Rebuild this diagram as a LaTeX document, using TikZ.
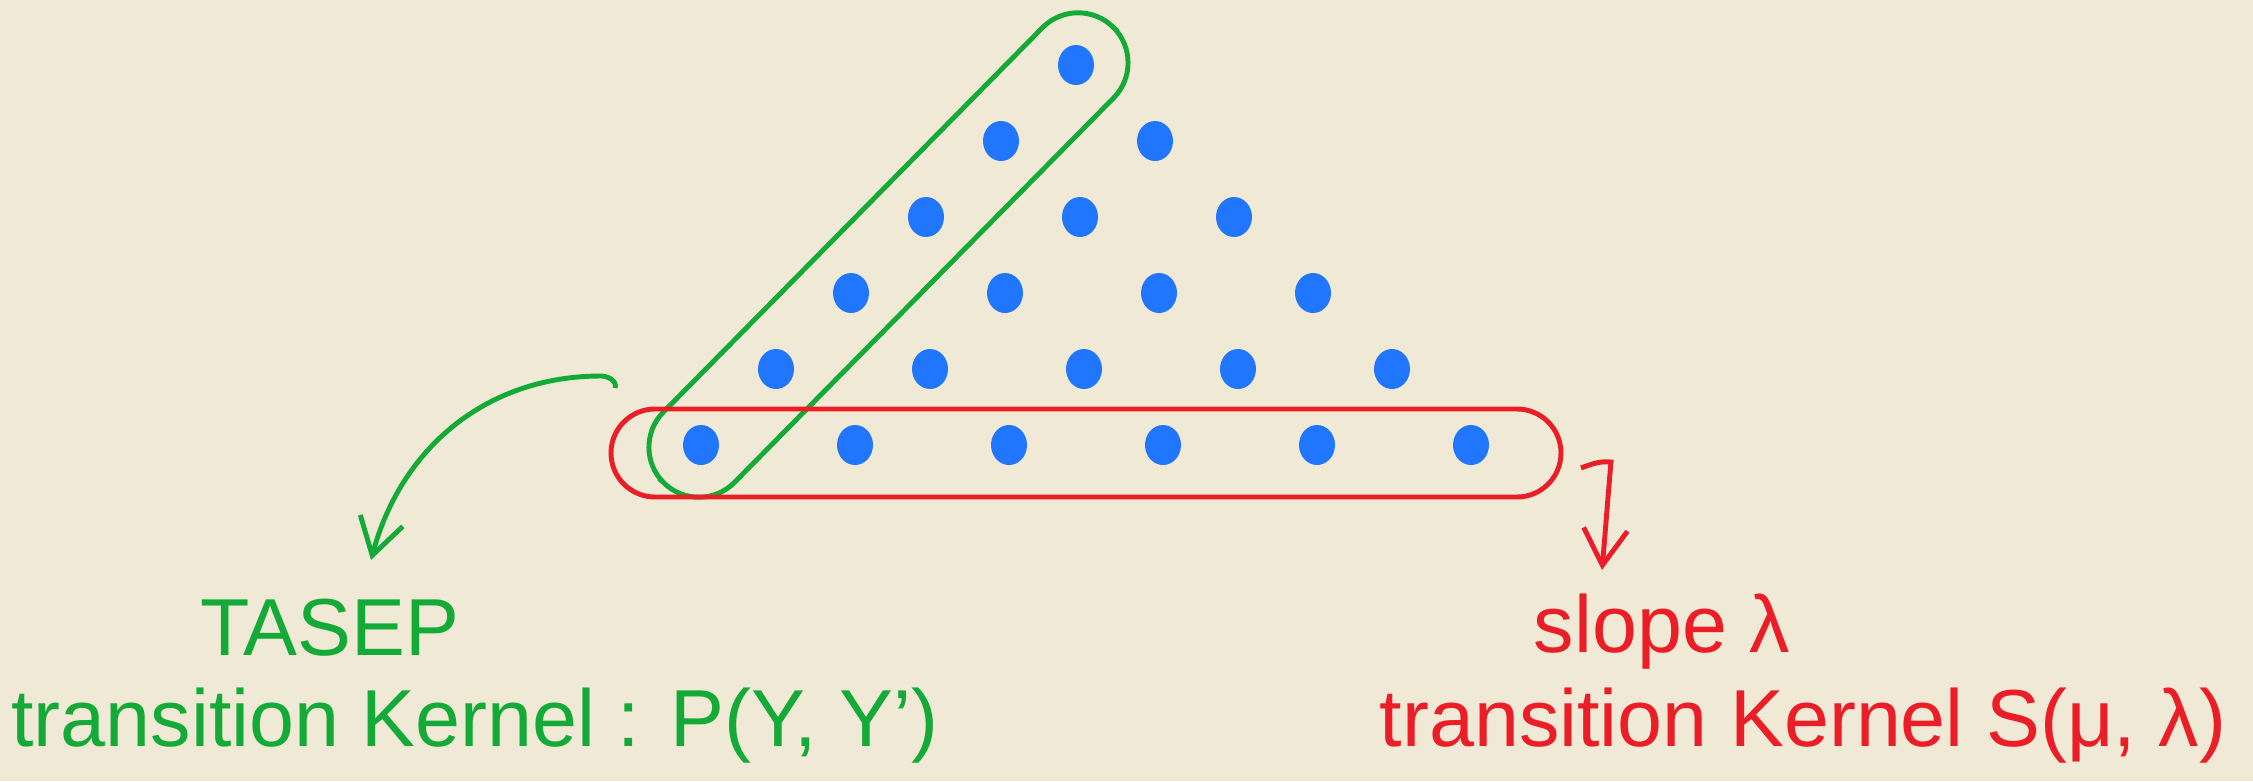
\documentclass[tikz,border=0pt]{standalone}
\usepackage{fontspec}
\setmainfont{Liberation Sans}
\usetikzlibrary{positioning, calc, shapes.geometric, arrows.meta}
\definecolor{paper}{RGB}{240,233,214}
\definecolor{dotblue}{RGB}{33,118,255}
\definecolor{pengreen}{RGB}{20,170,55}
\definecolor{penred}{RGB}{235,30,40}
\tikzset{
	bluedot/.style={ellipse, fill=dotblue, minimum width=0.36cm, minimum height=0.40cm, inner sep=0pt}
}
\tikzset{
	greentext/.style={font=\fontsize{23}{28}\selectfont\color{pengreen}}
}
\tikzset{
	redtext/.style={font=\fontsize{23}{28}\selectfont\color{penred}}
}
\tikzset{
	greenring/.style={draw=pengreen, line width=1.4pt, rounded corners=0.5cm},
	redring/.style={draw=penred, line width=1.4pt, rounded corners=0.44cm},
	penarrow/.style={line width=1.4pt, -{Straight Barb[length=0.36cm, width=0.44cm]}}
}

\begin{document}
\begin{tikzpicture}
      \fill[paper] (0,0) rectangle (22.53,7.81);
      \useasboundingbox (0,0) rectangle (22.53,7.81);
      % triangle of dots
      \foreach \k in {0,...,5} {
        \pgfmathtruncatemacro{\n}{5-\k}
        \foreach \i in {0,...,\n}
          \node[bluedot] (d\k\i) at ({7.01+0.75*\k+1.54*\i},{3.36+0.76*\k}) {};
      }
      \node[greenring, rotate=45.4, minimum width=6.4cm, minimum height=1.0cm]
        (diag) at ($(d00)!0.5!(d50)$) {};
      \node[redring, minimum width=9.5cm, minimum height=0.88cm]
        (row) at ($(d00)!0.5!(d05)+(0,-0.08)$) {};
      % labels
      \node[greentext] (tasep) at (3.30,1.53) {TASEP};
      \node[greentext] (pkernel) at (4.75,0.55) {transition Kernel : P(Y, Y')};
      \node[redtext] (slope) at (16.62,1.49) {slope\ λ};
      \node[redtext] (skernel) at (18.03,0.55) {transition Kernel S(μ, λ)};
      % arrows
      \coordinate (gtail) at (6.15,3.93);
      \coordinate (rtail) at (15.81,3.13);
      \draw[penarrow, pengreen] (gtail) to[out=70,in=0] ++(-0.14,0.12)
        to[out=180,in=75] ([xshift=0.41cm,yshift=0.27cm]tasep.north);
      \draw[penarrow, penred] (rtail) to[out=20,in=175] ++(0.3,0.06)
        to[out=-95,in=85] ([xshift=-0.6cm,yshift=0.12cm]slope.north);
\end{tikzpicture}
\end{document}
